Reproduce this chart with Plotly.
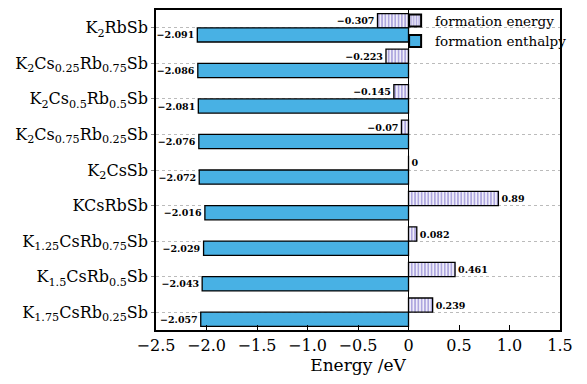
import plotly.graph_objects as go

categories = [
    "K<sub>2</sub>RbSb",
    "K<sub>2</sub>Cs<sub>0.25</sub>Rb<sub>0.75</sub>Sb",
    "K<sub>2</sub>Cs<sub>0.5</sub>Rb<sub>0.5</sub>Sb",
    "K<sub>2</sub>Cs<sub>0.75</sub>Rb<sub>0.25</sub>Sb",
    "K<sub>2</sub>CsSb",
    "KCsRbSb",
    "K<sub>1.25</sub>CsRb<sub>0.75</sub>Sb",
    "K<sub>1.5</sub>CsRb<sub>0.5</sub>Sb",
    "K<sub>1.75</sub>CsRb<sub>0.25</sub>Sb",
]
formation_energy = [-0.307, -0.223, -0.145, -0.07, 0, 0.89, 0.082, 0.461, 0.239]
formation_enthalpy = [-2.091, -2.086, -2.081, -2.076, -2.072, -2.016, -2.029, -2.043, -2.057]
energy_text = ["−0.307", "−0.223", "−0.145", "−0.07", "0", "0.89", "0.082", "0.461", "0.239"]
enthalpy_text = ["−2.091", "−2.086", "−2.081", "−2.076", "−2.072", "−2.016", "−2.029", "−2.043", "−2.057"]
xtick_vals = [-2.5, -2.0, -1.5, -1.0, -0.5, 0, 0.5, 1.0, 1.5]
xtick_text = ["−2.5", "−2.0", "−1.5", "−1.0", "−0.5", "0", "0.5", "1.0", "1.5"]

serif = "DejaVu Serif"

fig = go.Figure()
fig.add_trace(go.Bar(
    name="formation energy", y=categories, x=formation_energy, orientation="h",
    text=energy_text, textposition="outside", cliponaxis=False,
    textfont=dict(family=serif, size=9.5, color="black", weight="bold"),
    marker=dict(color="white", line=dict(color="black", width=1.3),
                pattern=dict(shape="|", fgcolor="#5e4fc0", bgcolor="white", size=3.3, solidity=0.6)),
))
fig.add_trace(go.Bar(
    name="formation enthalpy", y=categories, x=formation_enthalpy, orientation="h",
    text=enthalpy_text, textposition="outside", cliponaxis=False,
    textfont=dict(family=serif, size=9.5, color="black", weight="bold"),
    marker=dict(color="#48b1e4", line=dict(color="black", width=1.3)),
))

fig.update_layout(
    width=587, height=384,
    margin=dict(l=156, r=27, t=5, b=54),
    barmode="group", bargap=0.2, bargroupgap=0,
    plot_bgcolor="white", paper_bgcolor="white",
    font=dict(family=serif, color="black"),
    showlegend=True,
    legend=dict(x=1.03, y=1.015, xanchor="right", yanchor="top",
                bgcolor="rgba(0,0,0,0)", font=dict(family=serif, size=13.5),
                itemwidth=30, tracegroupgap=0, itemsizing="constant",
                borderwidth=0),
)
fig.update_xaxes(
    range=[-2.5, 1.5], tickvals=xtick_vals, ticktext=xtick_text,
    ticks="inside", ticklen=5, tickwidth=1.3, tickcolor="black",
    showline=True, linecolor="black", linewidth=1.5, mirror=True,
    showgrid=False, zeroline=True, zerolinecolor="black", zerolinewidth=1.3,
    tickfont=dict(family=serif, size=16), automargin=False,
    title=dict(text="Energy /eV", font=dict(family=serif, size=17), standoff=2),
)
fig.update_yaxes(
    autorange="reversed", type="category",
    ticks="outside", ticklen=3, tickcolor="#888",
    showline=True, linecolor="black", linewidth=1.5, mirror=True,
    showgrid=True, gridcolor="#bbbbbb", griddash="dot", gridwidth=1,
    tickfont=dict(family=serif, size=16), automargin=False,
)

fig.write_html("out.html", config={"displayModeBar": False},
               post_script="document.body.style.margin='0';")
